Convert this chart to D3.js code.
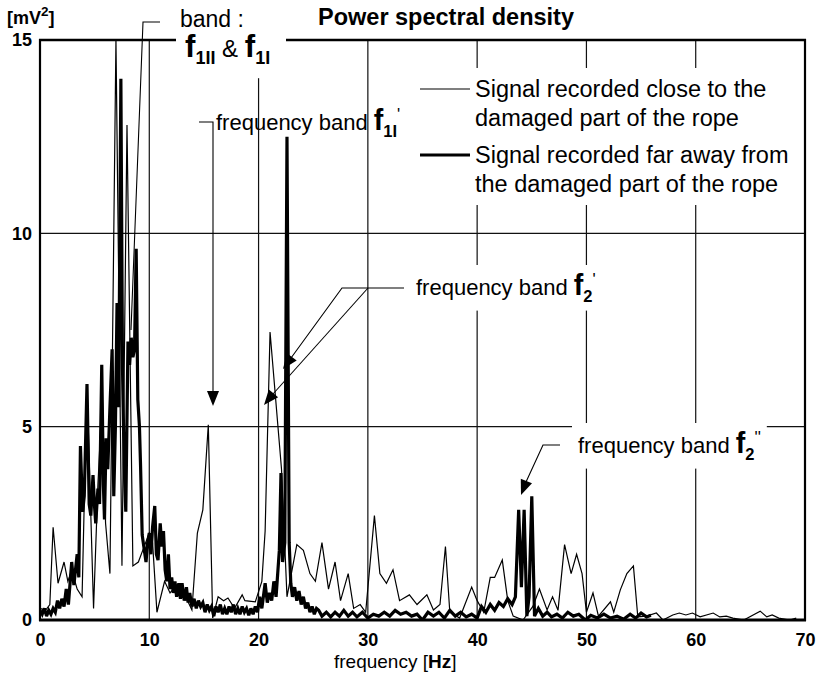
<!DOCTYPE html>
<html>
<head>
<meta charset="utf-8">
<script src="https://cdn.jsdelivr.net/npm/d3@7"></script>
<style>
  body { margin: 0; background: #fff; }
  text { font-family: "Liberation Sans", Arial, Helvetica, sans-serif; fill: #000; }
</style>
</head>
<body>
<svg id="chart" width="816" height="674"></svg>
<script>
// Tick values
const xTicks = [0, 10, 20, 30, 40, 50, 60, 70];
const yTicks = [0, 5, 10, 15];
const xGrid = [10, 20, 30, 40, 50, 60];
const yGrid = [5, 10];

// [frequency Hz, PSD mV^2] - thin line, close to damaged part
const closeSignal = [
  [0, 0.3], [0.5, 0.25], [0.9, 0.4], [1.2, 2.4], [1.65, 0.95], [2.2, 1.5], [2.55, 1.0], [2.9, 1.3],
  [3.4, 0.8], [3.85, 0.6], [4.3, 6.1], [4.9, 0.3], [5.3, 3.5], [5.7, 5.8], [6.0, 2.5], [6.4, 1.2],
  [6.95, 15], [7.5, 1.4], [7.96, 12.8], [8.5, 1.4], [9.0, 1.5], [9.4, 1.8], [10.0, 2.25], [10.3, 2.0],
  [10.7, 0.2], [11.4, 1.0], [11.9, 0.7], [12.5, 0.9], [13.0, 0.6], [13.5, 0.5], [13.9, 0.26],
  [14.4, 2.25], [14.9, 2.85], [15.4, 5.05], [15.8, 0.05], [16.3, 0.6], [16.8, 0.5], [17.2, 0.57],
  [17.8, 0.3], [18.5, 0.65], [18.75, 0.5], [19.7, 0.47], [20.3, 1.0], [20.6, 2.3], [21.05, 7.45],
  [22.1, 3.9], [22.6, 0.6], [23.5, 1.95], [24.1, 1.8], [24.7, 1.2], [25.2, 1.0], [25.8, 2.0],
  [26.4, 0.8], [27.0, 1.5], [27.5, 0.5], [28.2, 1.2], [28.7, 0.3], [29.3, 0.4], [29.8, 0.2],
  [30.6, 2.7], [31.1, 1.2], [31.7, 0.95], [32.3, 1.3], [32.9, 0.5], [33.8, 0.65], [34.5, 0.4],
  [35.4, 0.65], [36.0, 0.26], [36.6, 0.4], [37.1, 1.9], [37.5, 0.2], [38.4, 0.05], [39.5, 0.85],
  [40.0, 0.5], [40.6, 0.2], [41.2, 1.1], [41.6, 1.1], [42.3, 1.55], [42.8, 0.5], [43.3, 0.1],
  [44.2, 0.0], [45.1, 0.35], [45.7, 0.8], [46.4, 0.26], [46.9, 0.6], [47.4, 0.25], [48.0, 1.95],
  [48.6, 1.2], [49.1, 1.7], [49.6, 1.2], [50.0, 0.2], [50.6, 0.7], [51.1, 0.1], [52.2, 0.47],
  [52.5, 0.2], [53.1, 0.78], [53.7, 1.2], [54.3, 1.4], [54.7, 0.08], [55.5, 0.1], [56.4, 0.18],
  [57.0, 0.0], [57.9, 0.13], [58.5, 0.18], [59.1, 0.13], [59.7, 0.18], [60.4, 0.08], [61.6, 0.18],
  [62.2, 0.08], [62.8, 0.1], [63.4, 0.05], [64.4, 0.0], [65.9, 0.23], [66.5, 0.08], [67.0, 0.13],
  [67.6, 0.05], [68.6, 0.0], [69.2, 0.05]
];

// [frequency Hz, PSD mV^2] - thick line, far away from damaged part
const farSignal = [
  [0, 0.25], [0.2, 0.15], [0.4, 0.3], [0.6, 0.1], [0.8, 0.25], [1.0, 0.15], [1.2, 0.3], [1.4, 0.2],
  [1.6, 0.5], [1.8, 0.3], [2.0, 0.55], [2.2, 0.35], [2.4, 0.8], [2.6, 0.4], [2.9, 1.5], [3.1, 0.9],
  [3.4, 1.7], [3.55, 1.1], [3.7, 4.5], [3.9, 2.8], [4.05, 3.2], [4.3, 6.1], [4.5, 3.0], [4.65, 2.7],
  [4.85, 3.75], [5.0, 2.9], [5.1, 2.5], [5.3, 3.4], [5.45, 3.0], [5.65, 6.6], [5.8, 3.5], [5.9, 2.6],
  [6.05, 4.7], [6.2, 3.9], [6.4, 5.5], [6.6, 7.0], [6.75, 3.2], [6.9, 5.0], [7.05, 8.2], [7.2, 5.5],
  [7.4, 14.0], [7.55, 6.5], [7.7, 4.0], [7.85, 2.8], [8.05, 7.2], [8.2, 6.6], [8.35, 7.3], [8.5, 6.8],
  [8.65, 7.0], [8.8, 9.6], [8.95, 5.7], [9.1, 5.0], [9.2, 4.0], [9.35, 2.2], [9.5, 1.9], [9.7, 1.5],
  [9.85, 2.0], [10.0, 2.25], [10.15, 1.7], [10.3, 2.4], [10.5, 2.95], [10.65, 1.7], [10.8, 1.55],
  [11.0, 2.5], [11.15, 1.9], [11.3, 2.3], [11.45, 1.3], [11.6, 1.0], [11.75, 1.7], [11.9, 0.8],
  [12.05, 1.1], [12.2, 0.7], [12.35, 1.0], [12.5, 0.6], [12.7, 0.95], [12.85, 0.55], [13.0, 0.95],
  [13.2, 0.5], [13.4, 0.85], [13.55, 0.45], [13.7, 0.7], [13.9, 0.35], [14.1, 0.55], [14.3, 0.3],
  [14.5, 0.5], [14.7, 0.35], [14.9, 0.45], [15.1, 0.2], [15.3, 0.4], [15.5, 0.25], [15.7, 0.35],
  [15.9, 0.1], [16.1, 0.35], [16.3, 0.2], [16.5, 0.4], [16.7, 0.15], [16.9, 0.3], [17.1, 0.15],
  [17.3, 0.35], [17.5, 0.2], [17.7, 0.4], [17.9, 0.15], [18.1, 0.3], [18.3, 0.15], [18.5, 0.35],
  [18.7, 0.2], [18.9, 0.3], [19.1, 0.12], [19.3, 0.3], [19.5, 0.15], [19.7, 0.35], [19.9, 0.2],
  [20.1, 0.6], [20.3, 0.3], [20.6, 0.95], [20.8, 0.45], [21.0, 0.7], [21.2, 0.5], [21.4, 1.0],
  [21.6, 0.6], [21.75, 1.2], [21.9, 1.8], [22.05, 3.8], [22.2, 1.5], [22.4, 2.0], [22.6, 12.5],
  [22.8, 2.0], [22.95, 0.95], [23.1, 0.6], [23.3, 0.85], [23.5, 0.5], [23.7, 0.75], [23.9, 0.4],
  [24.1, 0.6], [24.3, 0.3], [24.5, 0.45], [24.7, 0.2], [24.9, 0.35], [25.1, 0.15], [25.3, 0.3],
  [25.5, 0.25], [25.8, 0.1], [26.2, 0.2], [26.6, 0.08], [27.0, 0.2], [27.4, 0.1], [27.8, 0.25],
  [28.2, 0.1], [28.6, 0.2], [29.0, 0.08], [29.5, 0.2], [30.0, 0.05], [30.5, 0.15], [31.0, 0.1],
  [31.5, 0.2], [32.0, 0.1], [32.5, 0.25], [33.0, 0.15], [33.5, 0.2], [34.0, 0.1], [34.5, 0.15],
  [35.0, 0.0], [35.5, 0.2], [36.0, 0.1], [36.5, 0.2], [37.0, 0.05], [37.5, 0.25], [38.0, 0.1],
  [38.5, 0.2], [39.0, 0.08], [39.5, 0.15], [40.0, 0.05], [40.4, 0.35], [40.8, 0.2], [41.2, 0.4],
  [41.6, 0.25], [42.0, 0.45], [42.4, 0.35], [42.8, 0.55], [43.2, 0.4], [43.5, 0.6], [43.8, 2.85],
  [44.05, 0.85], [44.3, 2.85], [44.55, 0.1], [44.75, 0.6], [45.0, 3.2], [45.25, 0.1], [45.6, 0.3],
  [46.0, 0.1], [46.4, 0.2], [46.8, 0.08], [47.3, 0.15], [47.8, 0.05], [48.3, 0.2], [48.8, 0.1],
  [49.3, 0.15], [49.9, 0.0], [50.4, 0.12], [51.0, 0.05], [51.6, 0.15], [52.2, 0.05], [52.8, 0.1],
  [53.4, 0.02], [54.0, 0.15], [54.5, 0.05], [55.0, 0.18], [55.5, 0.08], [55.9, 0.12]
];

const W = 816, H = 674;
const margin = { top: 40, right: 11, bottom: 54, left: 40 };

const svg = d3.select("#chart");

const x = d3.scaleLinear().domain([0, 70]).range([margin.left, W - margin.right]);
const y = d3.scaleLinear().domain([0, 15]).range([H - margin.bottom, margin.top]);

// grid
svg.append("g").selectAll("line").data(xGrid).enter().append("line")
  .attr("x1", d => x(d)).attr("x2", d => x(d))
  .attr("y1", y(0)).attr("y2", y(15))
  .attr("stroke", "#111").attr("stroke-width", 1.2);

svg.append("g").selectAll("line").data(yGrid).enter().append("line")
  .attr("x1", x(0)).attr("x2", x(70))
  .attr("y1", d => y(d)).attr("y2", d => y(d))
  .attr("stroke", "#111").attr("stroke-width", 1.2);

// data lines
svg.append("clipPath").attr("id", "plotClip").append("rect")
  .attr("x", x(0)).attr("y", y(15) - 1).attr("width", x(70) - x(0)).attr("height", y(0) - y(15) + 1);

const line = d3.line().x(d => x(d[0])).y(d => y(d[1]));

const plot = svg.append("g").attr("clip-path", "url(#plotClip)");
plot.append("path").attr("d", line(closeSignal))
  .attr("fill", "none").attr("stroke", "#000").attr("stroke-width", 1.2);
plot.append("path").attr("d", line(farSignal))
  .attr("fill", "none").attr("stroke", "#000").attr("stroke-width", 3.2)
  .attr("stroke-linejoin", "miter").attr("stroke-miterlimit", 3);

// helper: text made of parts (bold / sub / sup)
function richText(g, x0, y0, parts, size) {
  const t = g.append("text").attr("x", x0).attr("y", y0).style("font-size", size + "px");
  let shift = 0;
  parts.forEach(p => {
    const ts = t.append("tspan").text(p.t);
    if (p.b) ts.style("font-weight", "bold");
    const target = p.sub ? size * 0.3 : p.sup ? -size * 0.45 : 0;
    if (target !== shift) { ts.attr("dy", target - shift); shift = target; }
    if (p.sub || p.sup) ts.style("font-size", (size * 0.75) + "px");
    if (p.big) ts.style("font-size", (size * 1.3) + "px");
  });
  return t;
}

// white box behind a group
function whiteBox(g, pad) {
  const b = g.node().getBBox();
  g.insert("rect", ":first-child")
    .attr("x", b.x - pad[0]).attr("y", b.y - pad[1])
    .attr("width", b.width + pad[0] + pad[2]).attr("height", b.height + pad[1] + pad[3])
    .attr("fill", "#fff");
}

// legend
const legend = svg.append("g");
const legendRows = [
  { text: ["Signal recorded close to the", "damaged part of the rope"], y: 97, w: 1.2 },
  { text: ["Signal recorded far away from", "the damaged part of the rope"], y: 163, w: 3.2 }
];
legendRows.forEach(r => {
  r.text.forEach((s, i) => {
    legend.append("text").attr("x", 475).attr("y", r.y + i * 29).style("font-size", "23.5px").text(s);
  });
  legend.append("line").attr("x1", 420).attr("x2", 470)
    .attr("y1", r.y - 8).attr("y2", r.y - 8)
    .attr("stroke", "#000").attr("stroke-width", r.w);
});
whiteBox(legend, [4, 8, 2, 8]);

// annotations
const ann = svg.append("g");

const gBand2 = ann.append("g");
richText(gBand2, 185, 57, [
  { t: "f", b: true, big: true }, { t: "1II", b: true, sub: true }, { t: " & " },
  { t: "f", b: true, big: true }, { t: "1I", b: true, sub: true }
], 24);
whiteBox(gBand2, [8, -4, 8, 10]);
const gBand1 = ann.append("g");
richText(gBand1, 180, 27, [{ t: "band :" }], 23);

const gF1 = ann.append("g");
richText(gF1, 216, 130, [
  { t: "frequency band " }, { t: "f", b: true, big: true }, { t: "1I", b: true, sub: true },
  { t: "'", sup: true }
], 22);

const gF2a = ann.append("g");
richText(gF2a, 416, 295, [
  { t: "frequency band " }, { t: "f", b: true, big: true }, { t: "2", b: true, sub: true },
  { t: "'", sup: true }
], 22);
whiteBox(gF2a, [6, 4, 6, 6]);

const gF2b = ann.append("g");
richText(gF2b, 578, 453, [
  { t: "frequency band " }, { t: "f", b: true, big: true }, { t: "2", b: true, sub: true },
  { t: "''", sup: true }
], 22);
whiteBox(gF2b, [6, 4, 6, 6]);

// leader lines
const leaders = [
  [[160, 22], [143, 22], [131, 330]],
  [[199, 122], [213, 122], [213, 392]],
  [[404, 288], [342, 288], [291, 358]],
  [[368, 288], [273, 394]],
  [[560, 445], [543, 445], [526, 482]]
];
const arrowTips = [
  null,
  { from: [213, 392], to: [213, 406] },
  { from: [291, 358], to: [283, 369] },
  { from: [273, 394], to: [264, 405] },
  { from: [526, 482], to: [521, 495] }
];
leaders.forEach(pts => {
  ann.append("path").attr("d", d3.line()(pts))
    .attr("fill", "none").attr("stroke", "#000").attr("stroke-width", 1.1);
});
arrowTips.forEach(a => {
  if (!a) return;
  const dx = a.to[0] - a.from[0], dy = a.to[1] - a.from[1];
  const len = Math.hypot(dx, dy), ux = dx / len, uy = dy / len;
  const L = 15, hw = 6;
  const bx = a.to[0] - ux * L, by = a.to[1] - uy * L;
  ann.append("path")
    .attr("d", `M${a.to[0]},${a.to[1]}L${bx - uy * hw},${by + ux * hw}L${bx + uy * hw},${by - ux * hw}Z`)
    .attr("fill", "#000");
});

// frame
const frame = svg.append("g").attr("stroke", "#000").attr("fill", "none");
frame.append("line").attr("x1", x(0)).attr("x2", x(0)).attr("y1", y(15) - 1).attr("y2", y(0) + 1).attr("stroke-width", 2.2);
frame.append("line").attr("x1", x(70)).attr("x2", x(70)).attr("y1", y(15) - 1).attr("y2", y(0) + 1).attr("stroke-width", 2.2);
frame.append("line").attr("x1", x(0) - 1).attr("x2", x(70) + 1).attr("y1", y(0)).attr("y2", y(0)).attr("stroke-width", 3);
frame.append("line").attr("x1", x(0) - 1).attr("x2", 176).attr("y1", y(15)).attr("y2", y(15)).attr("stroke-width", 2.6);
frame.append("line").attr("x1", 286).attr("x2", x(70) + 1).attr("y1", y(15)).attr("y2", y(15)).attr("stroke-width", 2.6);

// axes
const xAxis = svg.append("g").attr("transform", `translate(0,${y(0)})`)
  .call(d3.axisBottom(x).tickValues(xTicks).tickSize(0).tickPadding(13).tickFormat(d3.format("d")));
const yAxis = svg.append("g").attr("transform", `translate(${x(0)},0)`)
  .call(d3.axisLeft(y).tickValues(yTicks).tickSize(0).tickPadding(8).tickFormat(d3.format("d")));
[xAxis, yAxis].forEach(a => {
  a.select(".domain").remove();
  a.selectAll("text").style("font-size", "18px").style("font-weight", "bold")
    .style("font-family", '"Liberation Sans", Arial, sans-serif').attr("fill", "#000");
});

// titles
svg.append("text").attr("x", 318).attr("y", 25)
  .style("font-size", "23.5px").style("font-weight", "bold").text("Power spectral density");

richText(svg.append("g"), 7, 24, [{ t: "[mV", b: true }, { t: "2", b: true, sup: true }, { t: "]", b: true }], 18);

const xl = svg.append("text").attr("x", 334).attr("y", 668).style("font-size", "19px");
xl.append("tspan").text("frequency [");
xl.append("tspan").style("font-weight", "bold").text("Hz");
xl.append("tspan").text("]");
</script>
</body>
</html>
